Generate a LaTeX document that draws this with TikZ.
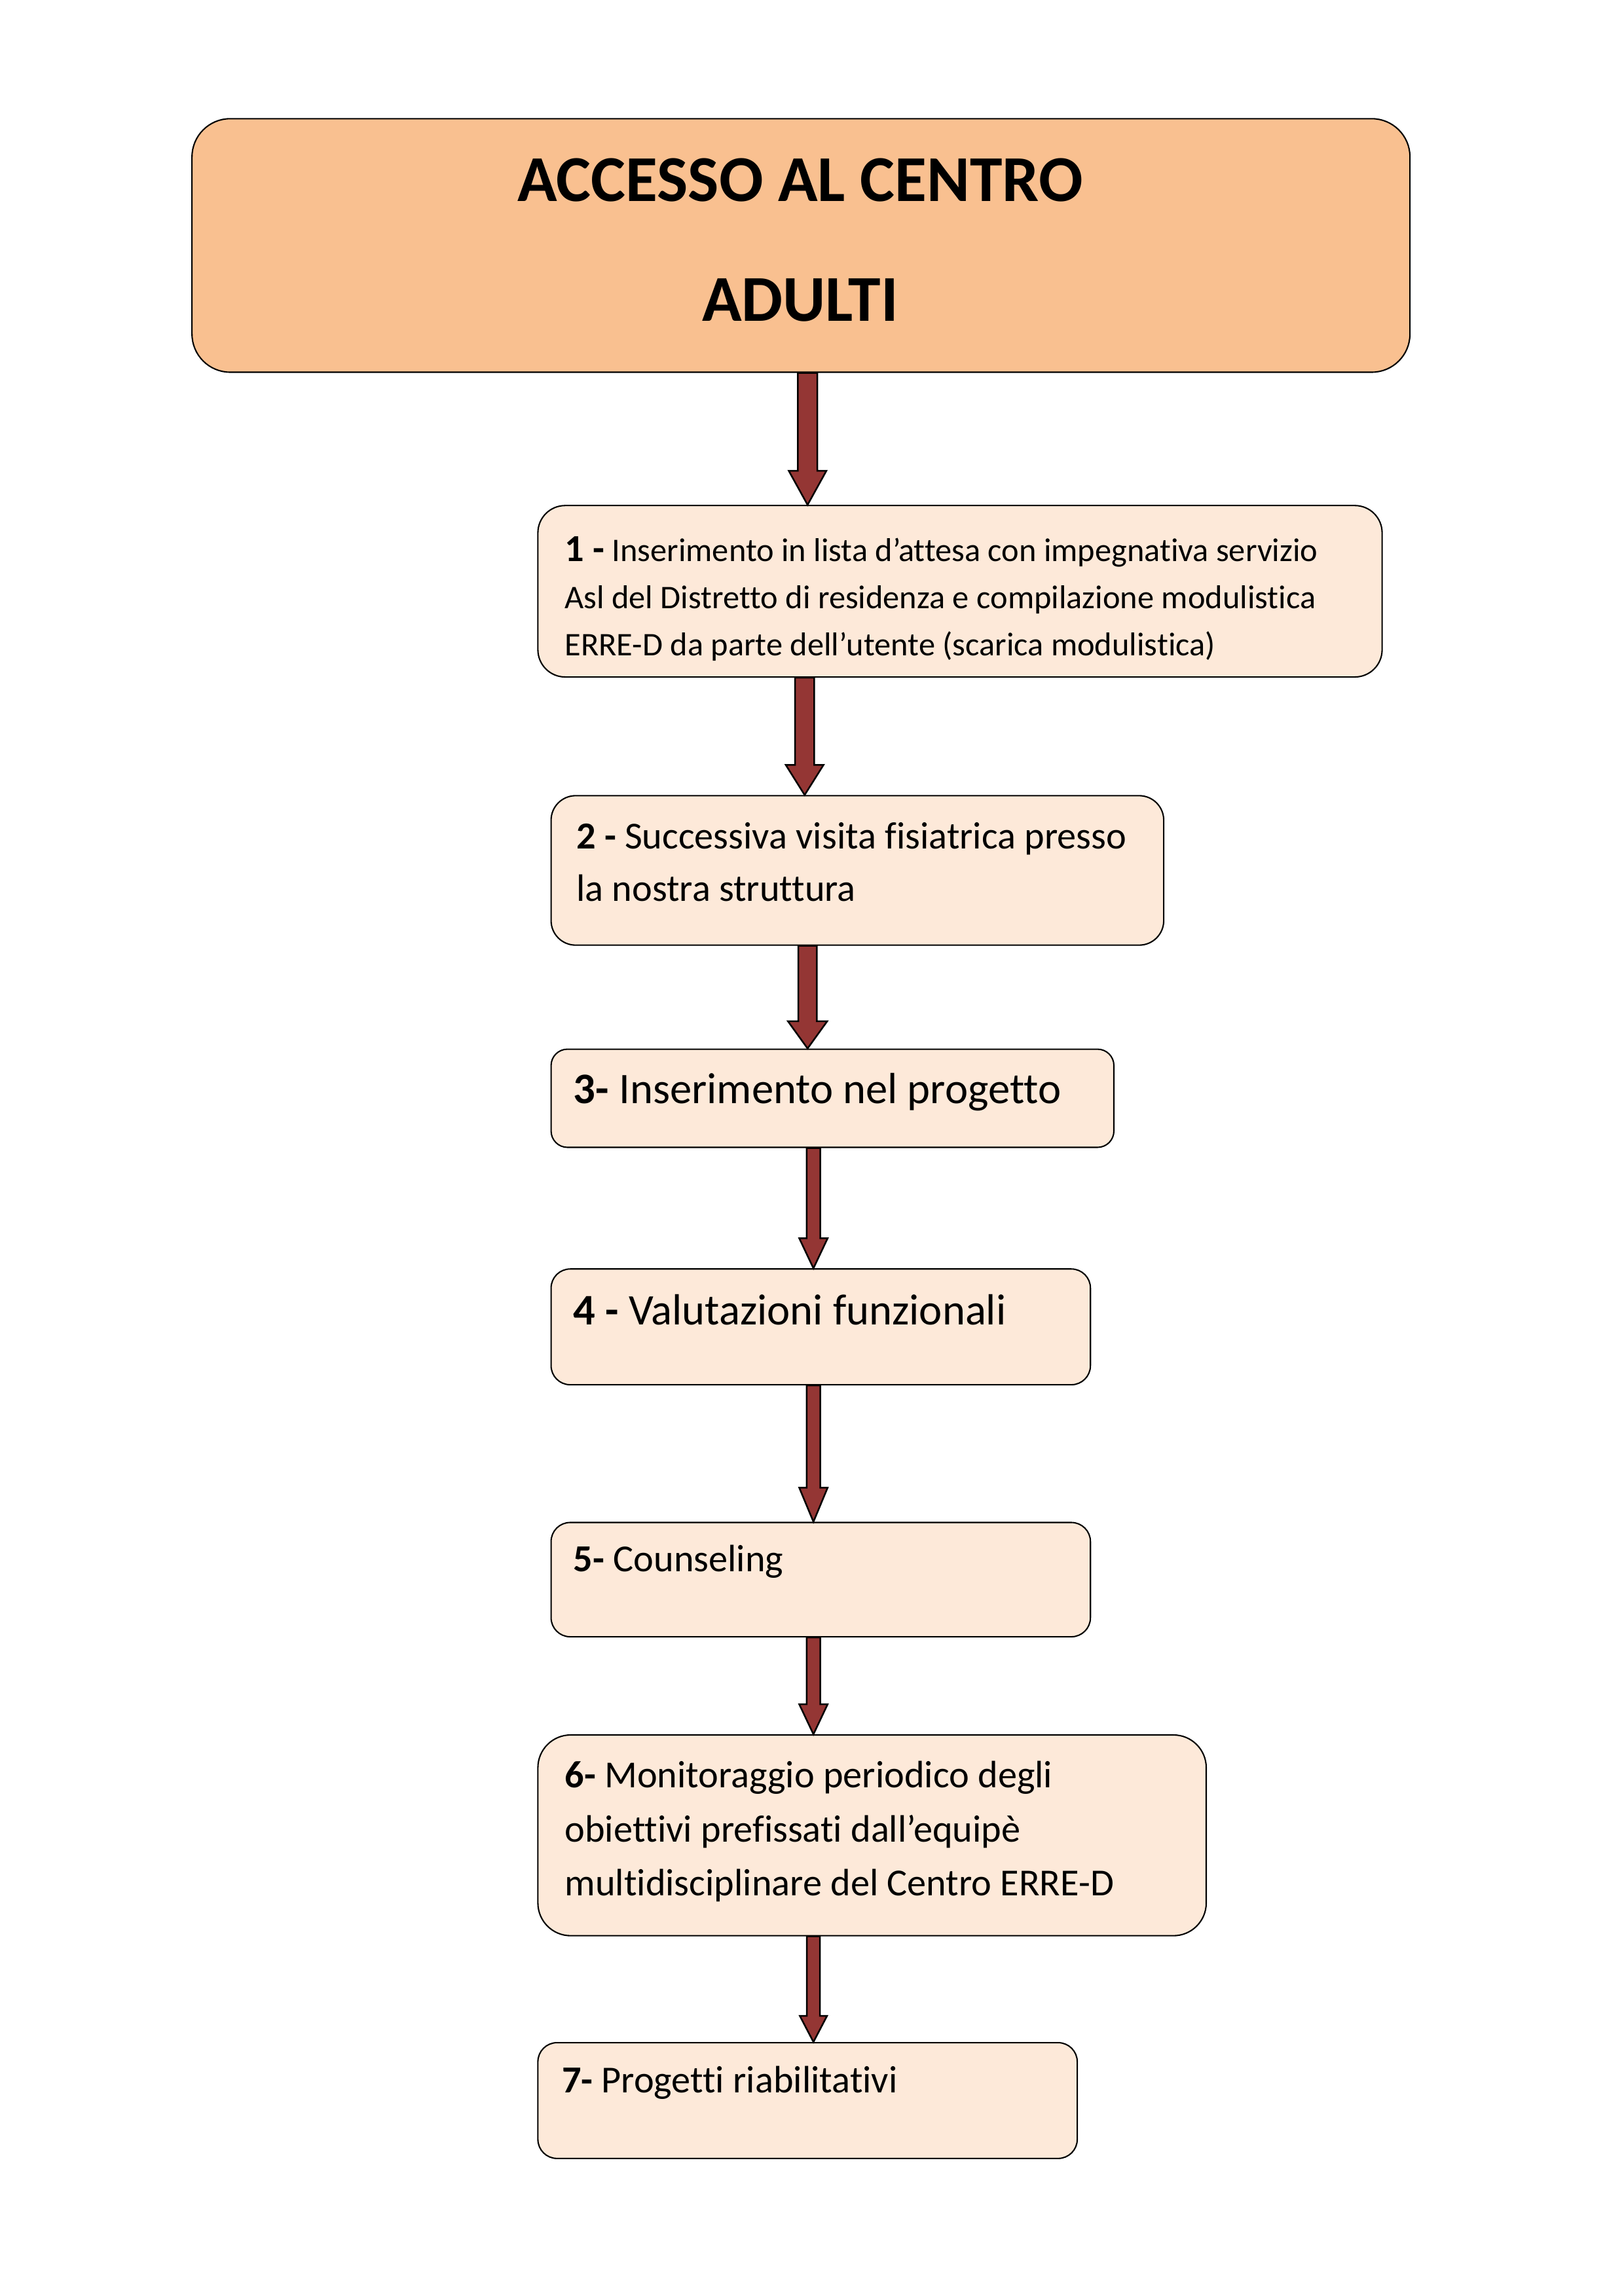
\documentclass[tikz,border=0pt]{standalone}
\usepackage{fontspec}
\setmainfont{Carlito}[Ligatures={TeX,NoCommon}]
\usetikzlibrary{fit,calc}

\definecolor{titlefill}{HTML}{F9C090}
\definecolor{boxfill}{HTML}{FDE9D9}
\definecolor{arrowred}{HTML}{943634}

\tikzset{
	titlebox/.style={draw, line width=0.5pt, fill=titlefill, rounded corners=14pt, inner sep=0pt},
	stepbox/.style={draw, line width=0.5pt, fill=boxfill, inner sep=0pt},
	titletext/.style={inner sep=0pt, font=\fontsize{24}{29}\selectfont\bfseries},
	steptext/.style={anchor=north west, inner sep=0pt, align=left},
	blockarrow/.style n args={3}{draw, line width=0.6pt, fill=arrowred, line join=miter,
		to path={let \p1=(\tikztostart), \p2=(\tikztotarget) in
			(\x1-#1,\y1) -- (\x1+#1,\y1) -- (\x1+#1,\y2+#3) -- (\x1+#2,\y2+#3)
			-- (\x1,\y2) -- (\x1-#2,\y2+#3) -- (\x1-#1,\y2+#3) -- cycle}}
}

\begin{document}
\begin{tikzpicture}[x=0.5373pt, y=-0.5373pt]
	\useasboundingbox (0,0) rectangle (1108,1566.9);
	% boxes
	\node[titlebox, fit={(131,81) (962,254)}] (acc) {};
	\node[stepbox, rounded corners=10pt, fit={(367,345) (943,462)}] (s1) {};
	\node[stepbox, rounded corners=9pt, fit={(376,543) (794,645)}] (s2) {};
	\node[stepbox, rounded corners=6pt, fit={(376,716) (760,783)}] (s3) {};
	\node[stepbox, rounded corners=7pt, fit={(376,866) (744,945)}] (s4) {};
	\node[stepbox, rounded corners=7pt, fit={(376,1039) (744,1117)}] (s5) {};
	\node[stepbox, rounded corners=12pt, fit={(367,1184) (823,1321)}] (s6) {};
	\node[stepbox, rounded corners=7pt, fit={(367,1394) (735,1473)}] (s7) {};
	% texts
	\node[titletext] (acc1) at (546,123) {ACCESSO AL CENTRO};
	\node[titletext] (acc2) at (546,205) {ADULTI};
	\node[steptext, font=\fontsize{12.1}{17.2}\selectfont] (t1) at (385,366)
		{{\fontsize{14}{17.2}\selectfont\bfseries 1 -} Inserimento in lista d’attesa con impegnativa servizio\\
		Asl del Distretto di residenza e compilazione modulistica\\
		ERRE-D da parte dell’utente (scarica modulistica)};
	\node[steptext, font=\fontsize{14}{19.3}\selectfont] (t2) at (393,561)
		{\textbf{2 -} Successiva visita fisiatrica presso\\la nostra struttura};
	\node[steptext, font=\fontsize{16}{19.3}\selectfont] (t3) at (391,732)
		{\textbf{3-} Inserimento nel progetto};
	\node[steptext, font=\fontsize{16}{19.3}\selectfont] (t4) at (391,883)
		{\textbf{4 -} Valutazioni funzionali};
	\node[steptext, font=\fontsize{14}{19.3}\selectfont] (t5) at (391,1054)
		{\textbf{5-} Counseling};
	\node[steptext, font=\fontsize{14}{19.8}\selectfont] (t6) at (385,1201.5)
		{\textbf{6-} Monitoraggio periodico degli\\obiettivi prefissati dall’equipè\\multidisciplinare del Centro ERRE-D};
	\node[steptext, font=\fontsize{14}{19.3}\selectfont] (t7) at (383,1409.5)
		{\textbf{7-} Progetti riabilitativi};
	% arrows
	\foreach \a/\b/\ax/\sw/\hw/\hl in {acc/s1/551/3.6/6.9/12.5, s1/s2/549/3.5/6.9/11, s2/s3/551/3.4/7.2/10,
		s3/s4/555/2.5/5.2/11, s4/s5/555/2.5/5.2/12.5, s5/s6/555/2.5/5.2/11, s6/s7/555/2.4/5.0/9.6}
		\draw[blockarrow={\sw pt}{\hw pt}{\hl pt}] (\ax,0 |- \a.south) to (\ax,0 |- \b.north);
\end{tikzpicture}
\end{document}
